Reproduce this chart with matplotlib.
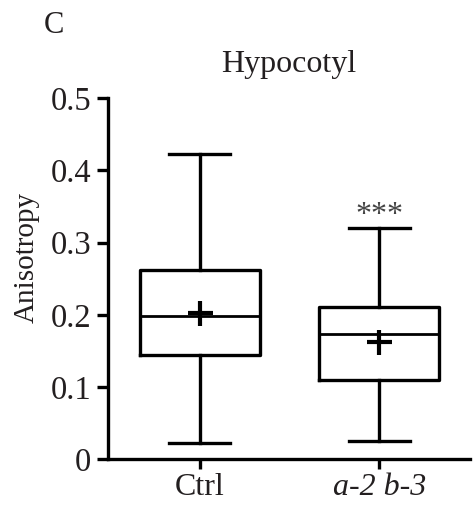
import matplotlib
matplotlib.use("Agg")
import matplotlib.pyplot as plt

plt.rcParams['font.family'] = ['Liberation Serif', 'DejaVu Serif']

# Box summary values per genotype
GROUPS = ['Ctrl', 'a-2 b-3']
WHISKER_LOW = [0.022, 0.026]
Q1 = [0.145, 0.110]
MEDIAN = [0.199, 0.173]
MEAN = [0.203, 0.163]
Q3 = [0.262, 0.211]
WHISKER_HIGH = [0.423, 0.321]
SIGNIF = ['', '***']

Y_TICKS = [0, 0.1, 0.2, 0.3, 0.4, 0.5]
Y_TICK_LABELS = ['0', '0.1', '0.2', '0.3', '0.4', '0.5']

INK = '#231f20'
LW = 2.4

stats = []
for i, name in enumerate(GROUPS):
    stats.append({
        'label': name,
        'whislo': WHISKER_LOW[i],
        'q1': Q1[i],
        'med': MEDIAN[i],
        'mean': MEAN[i],
        'q3': Q3[i],
        'whishi': WHISKER_HIGH[i],
        'fliers': [],
    })

fig = plt.figure(figsize=(4.77, 5.09), dpi=100)
ax = fig.add_axes([0.2264, 0.0976, 0.7586, 0.7093])

positions = [1, 2]
ax.bxp(
    stats, positions=positions, widths=0.67, showmeans=True,
    showfliers=False,
    boxprops=dict(color='black', linewidth=LW),
    medianprops=dict(color='black', linewidth=2.0),
    whiskerprops=dict(color='black', linewidth=LW),
    capprops=dict(color='black', linewidth=LW),
    meanprops=dict(marker='+', markersize=18, markeredgewidth=3.0,
                   markeredgecolor='black', markerfacecolor='black'),
    capwidths=0.34,
)

for pos, hi, mark in zip(positions, WHISKER_HIGH, SIGNIF):
    if mark:
        ax.text(pos, hi - 0.004, mark, ha='center', va='bottom',
                fontsize=23, color='#444444')

ax.set_xlim(0.487, 2.506)
ax.set_ylim(0, 0.5)
ax.set_yticks(Y_TICKS)
ax.set_yticklabels(Y_TICK_LABELS)
ax.set_xticks(positions)
ax.set_xticklabels(GROUPS)
ax.get_xticklabels()[1].set_style('italic')

for name in ['top', 'right']:
    ax.spines[name].set_visible(False)
for name in ['left', 'bottom']:
    ax.spines[name].set_linewidth(2.4)

ax.tick_params(axis='y', length=8, width=2.4, labelsize=23.5, pad=4)
ax.tick_params(axis='x', length=7, width=2.4, labelsize=23, pad=3)
for t in ax.get_xticklabels() + ax.get_yticklabels():
    t.set_color(INK)

ax.set_ylabel('Anisotropy', fontsize=21, color=INK)
ax.yaxis.set_label_coords(-0.19, 0.56)
ax.set_title('Hypocotyl', fontsize=23, color=INK, pad=19)
fig.text(0.092, 0.935, 'C', fontsize=22, color=INK)

fig.savefig('out.png', dpi=100)
